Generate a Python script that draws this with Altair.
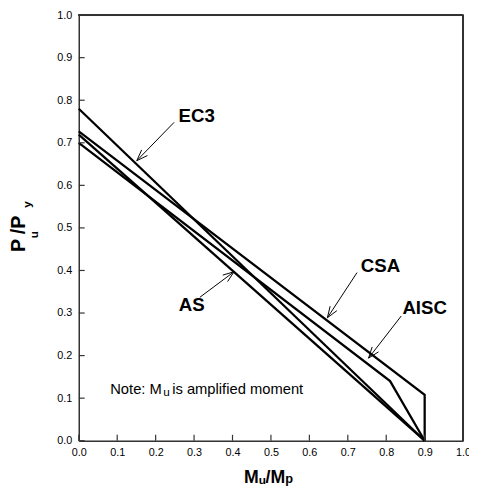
import math
import altair as alt
import pandas as pd

# ---- data ----
series_names = ["EC3", "CSA", "AISC", "AS"]
ec3_x = [0.0, 0.9]
ec3_y = [0.78, 0.0]
csa_x = [0.0, 0.9, 0.9]
csa_y = [0.727, 0.108, 0.0]
aisc_x = [0.0, 0.81, 0.9]
aisc_y = [0.70, 0.14, 0.0]
as_x = [0.0, 0.9]
as_y = [0.719, 0.0]

tick_values = [0.0, 0.1, 0.2, 0.3, 0.4, 0.5, 0.6, 0.7, 0.8, 0.9, 1.0]

# label annotations (data coordinates)
label_text = ["EC3", "CSA", "AISC", "AS"]
label_x = [0.307, 0.785, 0.900, 0.294]
label_y = [0.762, 0.411, 0.312, 0.319]
arrow_x0 = [0.248, 0.724, 0.839, 0.315]
arrow_y0 = [0.748, 0.395, 0.293, 0.337]
arrow_x1 = [0.151, 0.647, 0.754, 0.404]
arrow_y1 = [0.658, 0.289, 0.194, 0.397]

# pieces of text with subscripts (text, x px, y px, size, bold, angle)
note_text = ["Note: M", "u", " is amplified moment"]
xtitle_text = ["M", "u", "/M", "p"]
ytitle_text = ["P", "u", "/P", "y"]

W, H = 391, 433

rows = []
for name, xs, ys in [("EC3", ec3_x, ec3_y), ("CSA", csa_x, csa_y),
                     ("AISC", aisc_x, aisc_y), ("AS", as_x, as_y)]:
    for i, (a, b) in enumerate(zip(xs, ys)):
        rows.append({"series": name, "x": a, "y": b, "i": i})
lines_df = pd.DataFrame(rows)

# arrows: shaft + two head segments
seg = []
for x0, y0, x1, y1 in zip(arrow_x0, arrow_y0, arrow_x1, arrow_y1):
    seg.append({"x": x0, "y": y0, "x2": x1, "y2": y1})
    dx = (x1 - x0) * W
    dy = (y1 - y0) * H
    n = math.hypot(dx, dy)
    ux, uy = dx / n, dy / n
    L, ang = 12.0, math.radians(20)
    for s in (1, -1):
        c, si = math.cos(s * ang), math.sin(s * ang)
        rx = ux * c - uy * si
        ry = ux * si + uy * c
        seg.append({"x": x1, "y": y1, "x2": x1 - L * rx / W, "y2": y1 - L * ry / H})
arrow_df = pd.DataFrame(seg)

labels_df = pd.DataFrame({"t": label_text, "x": label_x, "y": label_y})
ticks_df = pd.DataFrame({"v": tick_values})

xscale = alt.Scale(domain=[0, 1], nice=False)
yscale = alt.Scale(domain=[0, 1], nice=False)

FONT = "Liberation Sans"

xaxis = alt.Axis(values=tick_values, format=".1f", ticks=False, tickSize=0, grid=False,
                 title="", labelPadding=6, labelFontSize=11, labelFont=FONT,
                 labelOverlap=False, labelFlush=False, labelBound=False,
                 labelColor="black", domainColor="#333", domainWidth=1.5)
yaxis = alt.Axis(values=tick_values, format=".1f", ticks=False, tickSize=0, grid=False,
                 title="", labelPadding=7, labelFontSize=11, labelFont=FONT,
                 labelOverlap=False, labelFlush=False, labelBound=False,
                 labelColor="black", domainColor="#333", domainWidth=1.5)


def X(f):
    return alt.X(f, scale=xscale, axis=xaxis)


def Y(f):
    return alt.Y(f, scale=yscale, axis=yaxis)


lines = alt.Chart(lines_df).mark_line(strokeWidth=2.3, color="black").encode(
    x=X("x:Q"), y=Y("y:Q"), detail="series:N", order="i:O",
)

xticks = alt.Chart(ticks_df).mark_rule(color="#333", strokeWidth=1.2).encode(
    x=X("v:Q"), y=alt.value(H), y2=alt.value(H - 6),
)
yticks = alt.Chart(ticks_df).mark_rule(color="#333", strokeWidth=1.2).encode(
    y=Y("v:Q"), x=alt.value(0), x2=alt.value(6),
)

arrows = alt.Chart(arrow_df).mark_rule(color="black", strokeWidth=1).encode(
    x=X("x:Q"), y=Y("y:Q"), x2="x2:Q", y2="y2:Q",
)

labels = alt.Chart(labels_df).mark_text(
    font=FONT, fontSize=19, fontWeight="bold", color="black",
    align="center", baseline="middle",
).encode(x=X("x:Q"), y=Y("y:Q"), text="t:N")

# frame (top and right edges)
frame_top = alt.Chart(ticks_df).mark_rule(color="#333", strokeWidth=1.5).encode(
    x=alt.value(0), x2=alt.value(W), y=alt.value(0))
frame_right = alt.Chart(ticks_df).mark_rule(color="#333", strokeWidth=1.5).encode(
    x=alt.value(W), y=alt.value(0), y2=alt.value(H))

# positioned text pieces (pixel positions relative to plot origin)
note_pos = [(32, 385, 15), (86, 387, 12), (95, 385, 15)]
xt_pos = [(168, 476, 18), (183, 477, 12), (190, 476, 18), (210, 476, 13)]
yt_pos = [(-55, 241, 20), (-41, 227, 12), (-55, 223, 20), (-49, 196, 12)]

text_layers = []
base = alt.Chart(ticks_df.head(1))
for t, (px, py, fs) in zip(note_text, note_pos):
    text_layers.append(base.mark_text(text=t, font=FONT, fontSize=fs, color="black",
                                      align="left", baseline="alphabetic").encode(
        x=alt.value(px), y=alt.value(py)))
for t, (px, py, fs) in zip(xtitle_text, xt_pos):
    text_layers.append(base.mark_text(text=t, font=FONT, fontSize=fs, fontWeight="bold",
                                      color="black", align="left",
                                      baseline="alphabetic").encode(
        x=alt.value(px), y=alt.value(py)))
for t, (px, py, fs) in zip(ytitle_text, yt_pos):
    text_layers.append(base.mark_text(text=t, font=FONT, fontSize=fs, fontWeight="bold",
                                      color="black", align="left", baseline="alphabetic",
                                      angle=270).encode(
        x=alt.value(px), y=alt.value(py)))

chart = alt.layer(lines, xticks, yticks, arrows, labels, frame_top, frame_right,
                  *text_layers).properties(
    width=W, height=H,
    autosize=alt.AutoSizeParams(type="none"),
    padding={"left": 72, "top": 3, "right": 6, "bottom": 51},
).configure_view(stroke="#333", strokeWidth=1.5).configure(background="white")

chart.save("out.html", embed_options={"renderer": "svg", "actions": False})
